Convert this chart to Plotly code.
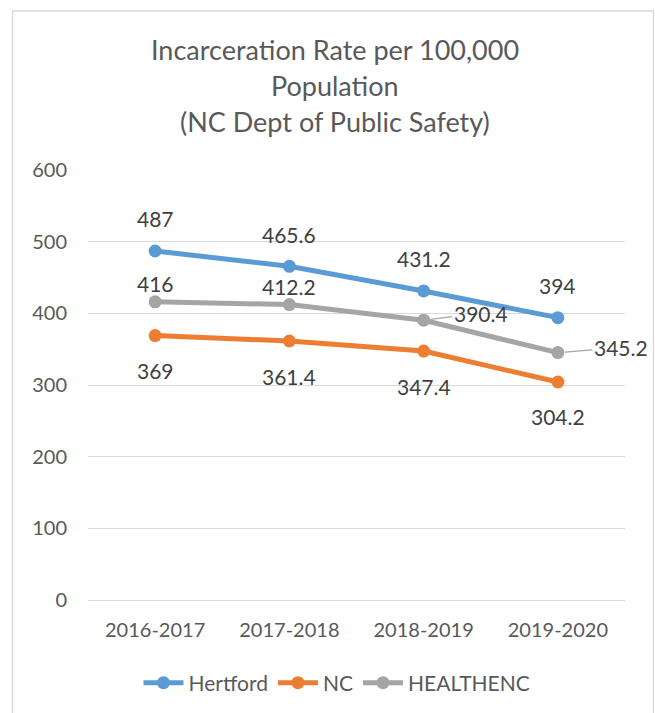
import plotly.graph_objects as go

# ---- data ----
categories = ["2016-2017", "2017-2018", "2018-2019", "2019-2020"]
hertford = [487, 465.6, 431.2, 394]
nc = [369, 361.4, 347.4, 304.2]
healthenc = [416, 412.2, 390.4, 345.2]
series_names = ["Hertford", "NC", "HEALTHENC"]
y_ticks = [0, 100, 200, 300, 400, 500, 600]
title_lines = ["Incarceration Rate per 100,000", "Population", "(NC Dept of Public Safety)"]

# ---- style ----
FONT = "Lato"
colors = {"Hertford": "#5B9BD5", "NC": "#ED7D31", "HEALTHENC": "#A5A5A5"}
W, H = 655, 713
ML, MR, MT, MB = 88, 30, 170, 113
PW, PH = W - ML - MR, H - MT - MB

def px_x(p):
    return (p - ML) / PW

def px_y(p):
    return (H - MB - p) / PH

fig = go.Figure()
values = {"Hertford": hertford, "NC": nc, "HEALTHENC": healthenc}
for name in series_names:
    fig.add_trace(go.Scatter(
        x=categories, y=values[name], name=name, mode="lines+markers",
        line=dict(color=colors[name], width=5),
        marker=dict(color=colors[name], size=13),
        hoverinfo="skip",
    ))

# data label placement (pixel offsets): ("shift", dy) or ("leader", ax, ay)
label_place = {
    "Hertford": [("shift", 32)] * 4,
    "NC": [("shift", -35)] * 4,
    "HEALTHENC": [("shift", 18), ("shift", 18), ("leader", 57, -7), ("leader", 63, -5)],
}

LABEL_FONT = dict(family=FONT, size=21, color="#404040")
annotations = []
for name in series_names:
    for cat, v, place in zip(categories, values[name], label_place[name]):
        txt = f"{v:g}"
        if place[0] == "shift":
            annotations.append(dict(
                x=cat, y=v, xref="x", yref="y", text=txt, showarrow=False,
                yshift=place[1], font=LABEL_FONT,
            ))
        else:
            annotations.append(dict(
                x=cat, y=v, xref="x", yref="y", text=txt, showarrow=True,
                ax=place[1], ay=place[2], axref="pixel", ayref="pixel",
                arrowhead=0, arrowwidth=1.3, arrowcolor="#A5A5A5", standoff=7,
                font=LABEL_FONT,
            ))

# title lines
title_y_px = [50, 86, 121]
for line, ypx in zip(title_lines, title_y_px):
    annotations.append(dict(
        x=px_x(335), y=px_y(ypx), xref="paper", yref="paper", text=line,
        showarrow=False, xanchor="center", yanchor="middle",
        font=dict(family=FONT, size=27, color="#595959"),
    ))

fig.update_layout(
    width=W, height=H,
    margin=dict(l=ML, r=MR, t=MT, b=MB),
    paper_bgcolor="white", plot_bgcolor="white",
    showlegend=True,
    legend=dict(
        orientation="h", xref="container", yref="container",
        x=337 / W, y=1 - 683 / H, xanchor="center", yanchor="middle",
        font=dict(family=FONT, size=21, color="#595959"),
        itemwidth=40,
    ),
    annotations=annotations,
    shapes=[dict(
        type="rect", xref="paper", yref="paper",
        x0=px_x(12.5), x1=px_x(653.5), y0=px_y(725), y1=px_y(11),
        line=dict(color="#D9D9D9", width=1.5), fillcolor="rgba(0,0,0,0)", layer="below",
    )],
    xaxis=dict(
        type="category", categoryorder="array", categoryarray=categories,
        range=[-0.5, len(categories) - 0.5],
        showgrid=False, showline=False, zeroline=False, ticks="",
        tickfont=dict(family=FONT, size=20, color="#595959"),
        ticklabelstandoff=16,
    ),
    yaxis=dict(
        range=[0, 600], tickvals=y_ticks, ticktext=[str(t) for t in y_ticks],
        showgrid=True, gridcolor="#D9D9D9", gridwidth=1.3,
        zeroline=True, zerolinecolor="#D9D9D9", zerolinewidth=1.3,
        showline=False, ticks="",
        tickfont=dict(family=FONT, size=20, color="#595959"),
        ticklabelstandoff=20,
    ),
)

fig.write_html(
    "out.html",
    config={"displayModeBar": False},
    post_script="document.body.style.margin='0';document.body.style.overflow='hidden';",
)
